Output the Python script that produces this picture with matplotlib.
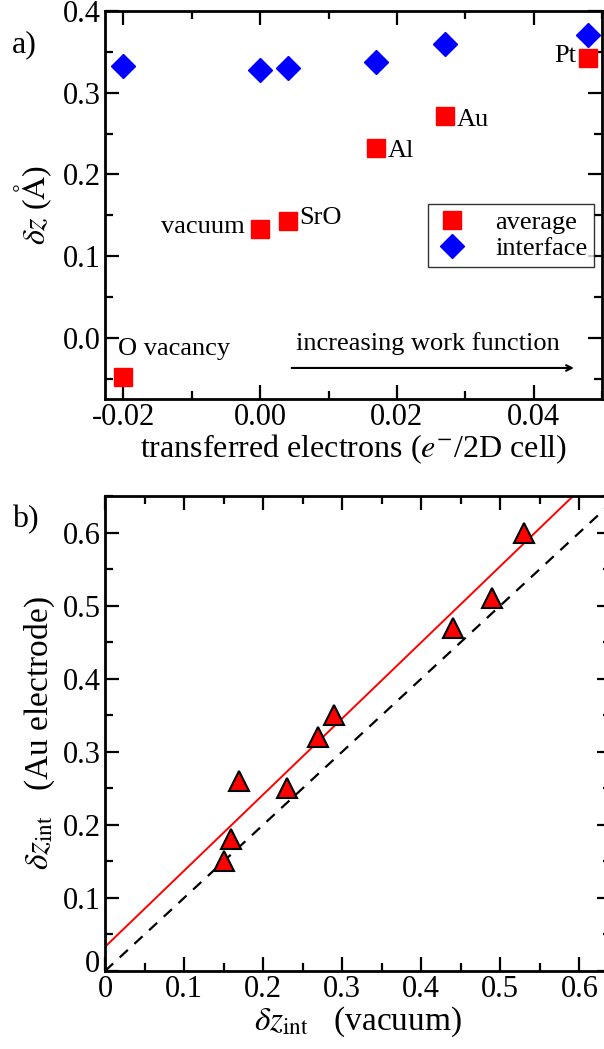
import numpy as np
import matplotlib
matplotlib.use("Agg")
import matplotlib.pyplot as plt
from matplotlib.ticker import MultipleLocator

plt.rcParams["font.family"] = ["Liberation Serif", "DejaVu Serif"]
plt.rcParams["mathtext.fontset"] = "stix"

# panel a) data
transferred = [-0.02, 0.0, 0.004, 0.017, 0.027, 0.048]
dz_average = [-0.048, 0.133, 0.143, 0.232, 0.271, 0.343]
dz_interface = [0.333, 0.328, 0.330, 0.338, 0.360, 0.371]
names = ["O vacancy", "vacuum", "SrO", "Al", "Au", "Pt"]

# panel b) data
dz_vacuum = [0.15, 0.16, 0.17, 0.23, 0.27, 0.29, 0.44, 0.49, 0.53]
dz_au = [0.15, 0.18, 0.26, 0.25, 0.32, 0.35, 0.47, 0.51, 0.60]
fit_intercept = 0.033
fit_slope = 1.042

W, H = 604, 1049
fig = plt.figure(figsize=(W / 100, H / 100), dpi=100)


def px_axes(x0, y0, x1, y1):
    # axes from pixel box (top-left origin)
    return fig.add_axes([x0 / W, 1 - y1 / H, (x1 - x0) / W, (y1 - y0) / H])


def style(ax):
    ax.tick_params(which="both", direction="in", top=True, right=True,
                   labelsize=22, width=1.6, pad=3)
    ax.tick_params(which="major", length=10)
    ax.tick_params(which="minor", length=5.5)
    for s in ax.spines.values():
        s.set_linewidth(2)


# ---------------- a) ----------------
ax1 = px_axes(105, 11, 602, 399)
ax1.plot(transferred, dz_average, "s", color="#ff0000", ms=13, mec="#ff0000",
         ls="none", label="average")
ax1.plot(transferred, dz_interface, "D", color="#0000ff", ms=12, mec="#0000ff",
         ls="none", label="interface")
ax1.set_xlim(-0.0227, 0.05)
ax1.set_ylim(-0.075, 0.4)
ax1.xaxis.set_major_locator(MultipleLocator(0.02))
ax1.xaxis.set_minor_locator(MultipleLocator(0.01))
ax1.yaxis.set_major_locator(MultipleLocator(0.1))
ax1.yaxis.set_minor_locator(MultipleLocator(0.05))
ax1.xaxis.set_major_formatter(plt.FuncFormatter(lambda v, p: f"{v:.2f}".replace("-0.00", "0.00")))
ax1.yaxis.set_major_formatter(plt.FuncFormatter(lambda v, p: f"{v:.1f}".replace("-0.0", "0.0")))
style(ax1)
ax1.set_xlabel(r"transferred electrons ($e^{-}$/2D cell)", fontsize=23, labelpad=0)
ax1.set_ylabel(r"$\delta z$ ($\mathrm{\AA}$)", fontsize=23, labelpad=6)

fs = 19
ax1.text(transferred[0] - 0.0008, -0.014, names[0], fontsize=fs, ha="left", va="center")
ax1.text(transferred[1] - 0.0022, dz_average[1] + 0.002, names[1], fontsize=fs, ha="right", va="center")
ax1.text(transferred[2] + 0.0017, dz_average[2] + 0.004, names[2], fontsize=fs, ha="left", va="center")
ax1.text(transferred[3] + 0.0017, dz_average[3] - 0.004, names[3], fontsize=fs, ha="left", va="center")
ax1.text(transferred[4] + 0.0017, dz_average[4] - 0.004, names[4], fontsize=fs, ha="left", va="center")
ax1.text(transferred[5] - 0.0017, dz_average[5] + 0.002, names[5], fontsize=fs, ha="right", va="center")

ax1.annotate("", xy=(0.0463, -0.037), xytext=(0.0042, -0.037),
             arrowprops=dict(arrowstyle="->", color="black", lw=1.5))
ax1.text(0.0245, -0.007, "increasing work function", fontsize=fs, ha="center", va="center")

leg = ax1.legend(loc="upper left", bbox_to_anchor=(0.65, 0.502), fontsize=19,
                 frameon=True, fancybox=False, edgecolor="black",
                 handletextpad=1.0, borderpad=0.25, labelspacing=0.1,
                 handlelength=1.3, borderaxespad=0)
leg.get_frame().set_linewidth(1.0)

fig.text(12 / W, 1 - 45 / H, "a)", fontsize=23, ha="left", va="center")

# ---------------- b) ----------------
ax2 = px_axes(105, 496, 611, 971)
xs = np.array([0.0, 0.64])
ax2.plot(xs, xs, "--", color="black", lw=1.6, dashes=(5, 4))
ax2.plot(xs, fit_intercept + fit_slope * xs, "-", color="#ff0000", lw=1.4)
ax2.plot(dz_vacuum, dz_au, "^", color="#ff0000", mec="black", mew=1.5, ms=15, ls="none")
ax2.set_xlim(0, 0.64)
ax2.set_ylim(0, 0.65)
ax2.xaxis.set_major_locator(MultipleLocator(0.1))
ax2.xaxis.set_minor_locator(MultipleLocator(0.05))
ax2.yaxis.set_major_locator(MultipleLocator(0.1))
ax2.yaxis.set_minor_locator(MultipleLocator(0.05))
ax2.xaxis.set_major_formatter(plt.FuncFormatter(lambda v, p: "0" if abs(v) < 1e-9 else f"{v:.1f}"))
# y "0" is drawn by hand a bit higher so it clears the x "0" at the corner
ax2.yaxis.set_major_formatter(plt.FuncFormatter(lambda v, p: "" if abs(v) < 1e-9 else f"{v:.1f}"))
ax2.text(-0.006, 0.009, "0", fontsize=22, ha="right", va="center", clip_on=False)
style(ax2)
ax2.set_xlabel(r"$\delta z_{\rm int}$   (vacuum)", fontsize=24, labelpad=0)
ax2.set_ylabel(r"$\delta z_{\rm int}$   (Au electrode)", fontsize=24, labelpad=4)

fig.text(12 / W, 1 - 520 / H, "b)", fontsize=23, ha="left", va="center")

fig.savefig("out.png", dpi=100)
